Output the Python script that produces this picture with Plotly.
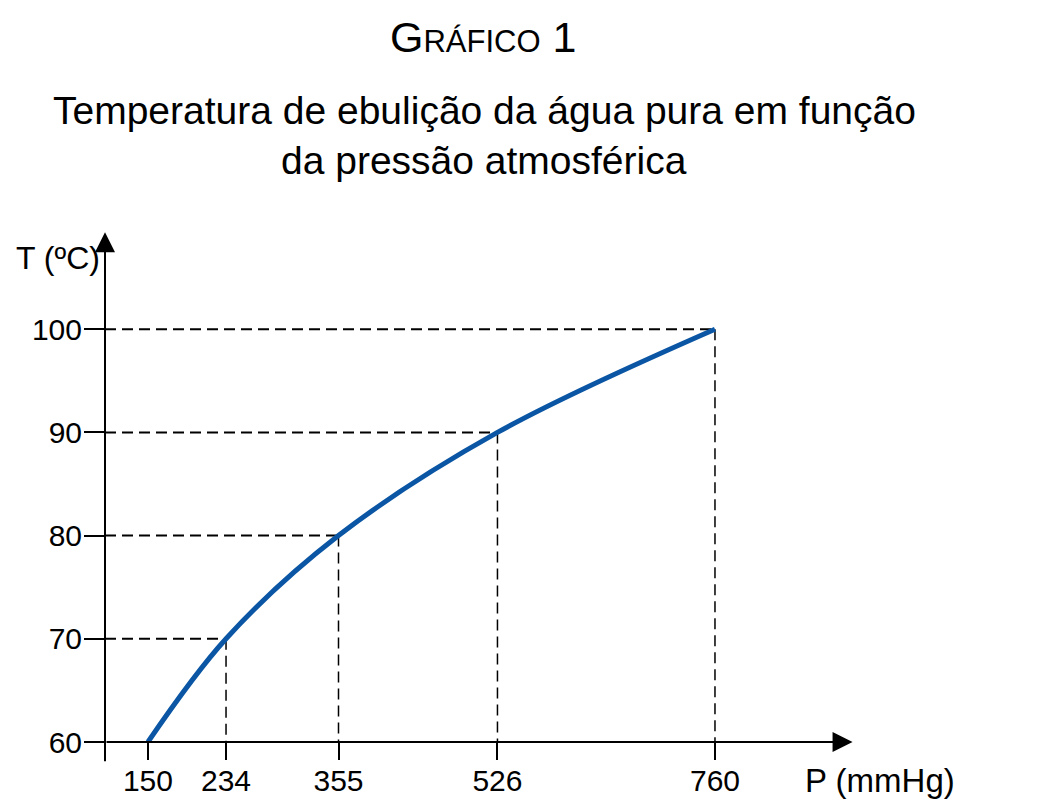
import plotly.graph_objects as go

# pressão (mmHg) e temperatura de ebulição (ºC)
pressao = [150, 234, 355, 526, 760]
temperatura = [60, 70, 80, 90, 100]
ticks_t = [60, 70, 80, 90, 100]

FONT = "Liberation Sans, Arial, sans-serif"
W, H = 1040, 805

# axis geometry (pixels per unit)
x0, x1 = 103.8, 930      # x range, y-axis sits on x0
y0, y1 = 60, 110
kx, ky = 0.929, 10.33
L = 105
B = 63
PW = (x1 - x0) * kx
PH = (y1 - y0) * ky
R = W - L - PW
T = H - B - PH


def paper_x(px):
    return (px - L) / PW


def paper_y(py):
    return (H - B - py) / PH


fig = go.Figure()

# dashed guide lines
hx, hy, vx, vy = [], [], [], []
for p, t in zip(pressao, temperatura):
    if t == y0:
        continue
    hx += [x0, p, None]
    hy += [t, t, None]
    vx += [p, p, None]
    vy += [t, y0, None]

fig.add_trace(go.Scatter(x=hx, y=hy, mode="lines", hoverinfo="skip",
                         line=dict(color="black", width=2, dash="11px,6px")))
fig.add_trace(go.Scatter(x=vx, y=vy, mode="lines", hoverinfo="skip",
                         line=dict(color="black", width=1.5, dash="11px,6px")))

# curve
fig.add_trace(go.Scatter(x=pressao, y=temperatura, mode="lines",
                         line=dict(color="#0b56a4", width=5, shape="spline", smoothing=1.0)))

annotations = [
    # x axis with arrow
    dict(x=908, y=y0, xref="x", yref="y", ax=x0, ay=y0, axref="x", ayref="y",
         showarrow=True, arrowhead=2, arrowsize=2, arrowwidth=2, arrowcolor="black",
         standoff=0, startstandoff=0, text=""),
    # y axis with arrow
    dict(x=x0, y=109.4, xref="x", yref="y", ax=x0, ay=58.0, axref="x", ayref="y",
         showarrow=True, arrowhead=2, arrowsize=2, arrowwidth=2, arrowcolor="black",
         standoff=0, startstandoff=0, text=""),
    dict(x=0, y=106.9, xref="paper", yref="y", xanchor="right", yanchor="middle",
         xshift=-3, showarrow=False, text="T (ºC)",
         font=dict(family=FONT, size=32, color="black")),
    dict(x=855, y=y0, xref="x", yref="y", xanchor="left", yanchor="middle",
         yshift=-38, showarrow=False, text="P (mmHg)",
         font=dict(family=FONT, size=33, color="black")),
    dict(x=paper_x(483), y=paper_y(36), xref="paper", yref="paper",
         xanchor="center", yanchor="middle", showarrow=False,
         text="G<span style='font-size:31px'>RÁFICO</span> 1",
         font=dict(family=FONT, size=43, color="black")),
    dict(x=paper_x(484), y=paper_y(110), xref="paper", yref="paper",
         xanchor="center", yanchor="middle", showarrow=False,
         text="Temperatura de ebulição da água pura em função",
         font=dict(family=FONT, size=39, color="black")),
    dict(x=paper_x(484), y=paper_y(160), xref="paper", yref="paper",
         xanchor="center", yanchor="middle", showarrow=False,
         text="da pressão atmosférica",
         font=dict(family=FONT, size=39, color="black")),
]

fig.update_layout(
    width=W, height=H,
    margin=dict(l=L, r=R, t=T, b=B, pad=0),
    paper_bgcolor="white", plot_bgcolor="white",
    showlegend=False,
    annotations=annotations,
    font=dict(family=FONT, size=30, color="black"),
)
fig.update_xaxes(range=[x0, x1], tickvals=pressao, ticks="outside", ticklen=17,
                 tickwidth=2, tickcolor="black", showgrid=False, zeroline=False,
                 showline=False, automargin=False, ticklabelstandoff=-5,
                 tickfont=dict(family=FONT, size=30))
fig.update_yaxes(range=[y0, y1], tickvals=ticks_t, ticks="outside", ticklen=20,
                 tickwidth=2, tickcolor="black", showgrid=False, zeroline=False,
                 showline=False, automargin=False, ticklabelstandoff=-4,
                 tickfont=dict(family=FONT, size=30))

fig.write_html("out.html", config={"displayModeBar": False},
               post_script="document.body.style.margin='0';")
